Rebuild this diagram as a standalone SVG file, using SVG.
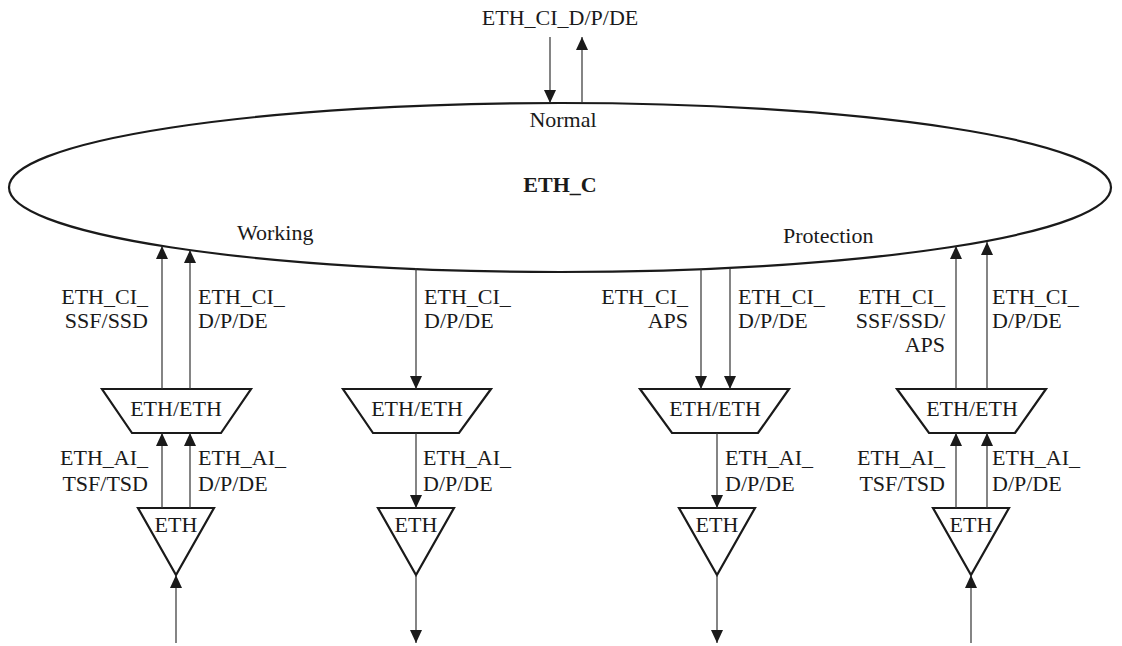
<svg xmlns="http://www.w3.org/2000/svg" width="1122" height="646" viewBox="0 0 1122 646">
<defs>
<marker id="ah" markerWidth="13" markerHeight="12" refX="13" refY="6" orient="auto" markerUnits="userSpaceOnUse" viewBox="0 0 13 12">
<path d="M0,0 L13,6 L0,12 Z" fill="#1a1a1a"/>
</marker>
<style>
text{font-family:"Liberation Serif","Times New Roman",serif;font-size:22px;fill:#1a1a1a}
.b{font-weight:bold}
.m{text-anchor:middle}
.r{text-anchor:end}
.shape{fill:#fff;stroke:#1a1a1a;stroke-width:2.2}
.c{stroke:#333;stroke-width:1.2;fill:none}
.a{marker-end:url(#ah)}
</style>
</defs>
<rect width="1122" height="646" fill="#fff"/>
<g id="eth_c">
<ellipse class="shape" cx="560" cy="187.5" rx="551" ry="84.5"/>
<text class="b m" x="560" y="192">ETH_C</text>
<text class="m" x="563" y="127">Normal</text>
<text x="237" y="240">Working</text>
<text x="783" y="243">Protection</text>
</g>
<g id="top-label"><text class="m" x="560" y="25">ETH_CI_D/P/DE</text></g>
<g id="adapt1"><path class="shape" d="M102,389 L251,389 L221,433 L132,433 Z"/><text class="m" x="176" y="416">ETH/ETH</text></g>
<g id="adapt2"><path class="shape" d="M343,389 L491,389 L459,433 L373,433 Z"/><text class="m" x="417" y="416">ETH/ETH</text></g>
<g id="adapt3"><path class="shape" d="M640,389 L789,389 L758,433 L672,433 Z"/><text class="m" x="715" y="416">ETH/ETH</text></g>
<g id="adapt4"><path class="shape" d="M897,389 L1046,389 L1015,433 L929,433 Z"/><text class="m" x="972" y="416">ETH/ETH</text></g>
<g id="term1"><path class="shape" d="M138,508 L214,508 L176,575 Z"/><text class="m" x="176" y="532">ETH</text></g>
<g id="term2"><path class="shape" d="M378,508 L454,508 L416,575 Z"/><text class="m" x="416" y="532">ETH</text></g>
<g id="term3"><path class="shape" d="M679,508 L755,508 L717,575 Z"/><text class="m" x="717" y="532">ETH</text></g>
<g id="term4"><path class="shape" d="M933,508 L1009,508 L971,575 Z"/><text class="m" x="971" y="532">ETH</text></g>
<g id="connectors">
<path class="c a" d="M550,37 L550,103"/>
<path class="c a" d="M582,103 L582,37"/>
<path class="c a" d="M162,389 L162,246"/>
<path class="c a" d="M190,389 L190,250"/>
<path class="c a" d="M416,268 L416,389"/>
<path class="c a" d="M701,269 L701,389"/>
<path class="c a" d="M730,268 L730,389"/>
<path class="c a" d="M956,389 L956,246"/>
<path class="c a" d="M987,389 L987,242"/>
<path class="c a" d="M162,508 L162,433"/>
<path class="c a" d="M190,508 L190,433"/>
<path class="c a" d="M416,433 L416,508"/>
<path class="c a" d="M717,433 L717,508"/>
<path class="c a" d="M956,508 L956,433"/>
<path class="c a" d="M987,508 L987,433"/>
<path class="c a" d="M176,643 L176,575"/>
<path class="c a" d="M416,575 L416,643"/>
<path class="c a" d="M717,575 L717,643"/>
<path class="c a" d="M971,643 L971,575"/>
</g>
<g id="labels">
<text class="r" x="148" y="304">ETH_CI_</text><text class="r" x="148" y="328">SSF/SSD</text>
<text x="198" y="304">ETH_CI_</text><text x="198" y="328">D/P/DE</text>
<text x="424" y="304">ETH_CI_</text><text x="424" y="328">D/P/DE</text>
<text class="r" x="688" y="304">ETH_CI_</text><text class="r" x="688" y="328">APS</text>
<text x="738" y="304">ETH_CI_</text><text x="738" y="328">D/P/DE</text>
<text class="r" x="945" y="304">ETH_CI_</text><text class="r" x="945" y="328">SSF/SSD/</text><text class="r" x="945" y="352">APS</text>
<text x="992" y="304">ETH_CI_</text><text x="992" y="328">D/P/DE</text>
<text class="r" x="148" y="465">ETH_AI_</text><text class="r" x="148" y="491">TSF/TSD</text>
<text x="198" y="465">ETH_AI_</text><text x="198" y="491">D/P/DE</text>
<text x="423" y="465">ETH_AI_</text><text x="423" y="491">D/P/DE</text>
<text x="725" y="465">ETH_AI_</text><text x="725" y="491">D/P/DE</text>
<text class="r" x="945" y="465">ETH_AI_</text><text class="r" x="945" y="491">TSF/TSD</text>
<text x="992" y="465">ETH_AI_</text><text x="992" y="491">D/P/DE</text>
</g>
</svg>
